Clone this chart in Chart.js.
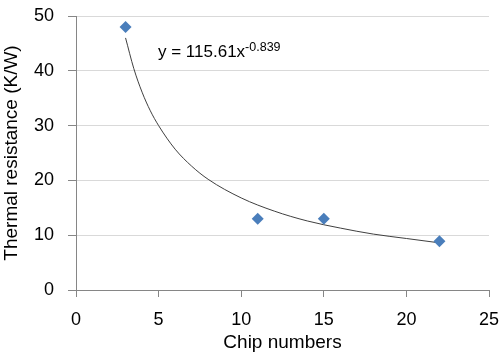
<!DOCTYPE html>
<html>
<head>
<meta charset="utf-8">
<script src="https://cdn.jsdelivr.net/npm/chart.js@4/dist/chart.umd.min.js"></script>
<style>
  html, body { margin: 0; padding: 0; background: #fff; }
  #wrap { width: 502px; height: 355px; }
</style>
</head>
<body>
<div id="wrap"><canvas id="chart" width="502" height="355"></canvas></div>
<script>
// measured points
const chipNumbers = [3, 11, 15, 22];
const thermalResistance = [48, 13, 13, 8.9];

// power trendline as drawn in the picture
const trendX = [3, 3.5, 4, 4.5, 5, 6, 7, 8, 10, 12, 14, 16, 18, 20, 22];
const trendY = [46.0, 40.4, 36.1, 32.7, 30.0, 25.7, 22.6, 20.2, 16.8, 14.4, 12.6, 11.3, 10.2, 9.4, 8.6];

const xTicks = [0, 5, 10, 15, 20, 25];
const yTicks = [0, 10, 20, 30, 40, 50];

const axisFont = "'Liberation Sans', Arial, sans-serif";

// trendline equation label
const equationLabel = {
    id: 'equationLabel',
    afterDraw(chart) {
        const ctx = chart.ctx;
        ctx.save();
        ctx.fillStyle = '#000';
        ctx.textBaseline = 'alphabetic';
        ctx.font = "17px " + axisFont;
        const base = 'y = 115.61x';
        ctx.fillText(base, 158, 57);
        const w = ctx.measureText(base).width;
        ctx.font = "12.5px " + axisFont;
        ctx.fillText('-0.839', 158 + w, 51);
        ctx.restore();
    }
};

const whiteBg = {
    id: 'whiteBg',
    beforeDraw(chart) {
        const ctx = chart.ctx;
        ctx.save();
        ctx.fillStyle = '#fff';
        ctx.fillRect(0, 0, chart.width, chart.height);
        ctx.restore();
    }
};

const ctx = document.getElementById('chart').getContext('2d');
new Chart(ctx, {
    type: 'scatter',
    data: {
        datasets: [{
            label: 'Trend',
            data: trendX.map((x, i) => ({ x: x, y: trendY[i] })),
            showLine: true,
            borderColor: '#404040',
            borderWidth: 1,
            pointRadius: 0,
            cubicInterpolationMode: 'monotone',
            order: 2
        }, {
            label: 'Thermal resistance',
            data: chipNumbers.map((x, i) => ({ x: x, y: thermalResistance[i] })),
            pointStyle: 'rectRot',
            pointRadius: 6,
            backgroundColor: '#4a7ebb',
            borderColor: '#4a7ebb',
            borderWidth: 0,
            order: 1
        }]
    },
    options: {
        responsive: false,
        animation: false,
        layout: { padding: { top: 16, right: 13, left: 0, bottom: 0 } },
        plugins: {
            legend: { display: false },
            tooltip: { enabled: false }
        },
        scales: {
            x: {
                type: 'linear',
                min: 0,
                max: 25,
                afterBuildTicks: axis => { axis.ticks = xTicks.map(v => ({ value: v })); },
                afterFit: axis => {
                    axis.height = 65;
                    axis.paddingLeft = 0;
                    axis.paddingRight = 0;
                },
                grid: {
                    drawOnChartArea: false,
                    tickLength: 7,
                    tickColor: '#868686'
                },
                border: { color: '#868686', width: 1 },
                ticks: {
                    color: '#000',
                    padding: 12,
                    maxRotation: 0,
                    font: { family: axisFont, size: 18 }
                },
                title: {
                    display: true,
                    text: 'Chip numbers',
                    color: '#000',
                    padding: { top: 0, bottom: 1 },
                    font: { family: axisFont, size: 19 }
                }
            },
            y: {
                min: 0,
                max: 50,
                afterBuildTicks: axis => { axis.ticks = yTicks.map(v => ({ value: v })); },
                afterFit: axis => {
                    axis.width = 76;
                    axis.paddingTop = 0;
                    axis.paddingBottom = 0;
                },
                grid: {
                    color: '#d9d9d9',
                    tickLength: 8,
                    tickColor: '#868686'
                },
                border: { color: '#868686', width: 1 },
                ticks: {
                    color: '#000',
                    padding: 14,
                    font: { family: axisFont, size: 18 }
                },
                title: {
                    display: true,
                    text: 'Thermal resistance (K/W)',
                    color: '#000',
                    padding: { top: 0, bottom: 6 },
                    font: { family: axisFont, size: 19 }
                }
            }
        }
    },
    plugins: [whiteBg, equationLabel]
});
</script>
</body>
</html>
